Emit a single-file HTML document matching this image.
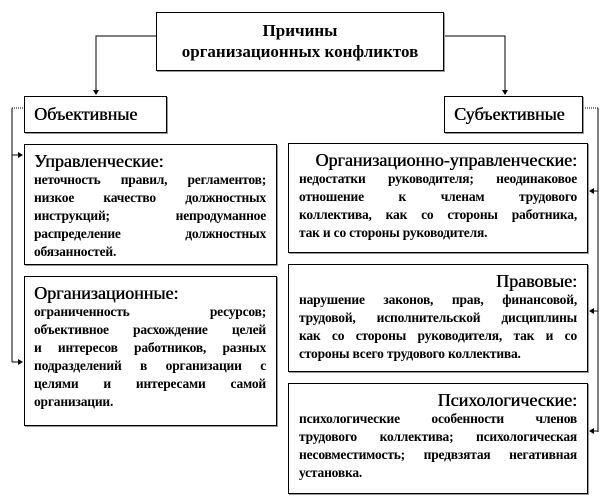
<!DOCTYPE html>
<html><head><meta charset="utf-8"><style>
body{margin:0;width:601px;height:504px;background:#fff;position:relative;overflow:hidden;font-family:"Liberation Serif","DejaVu Serif",serif;color:#000}
.b{position:absolute;border:1px solid #000;box-sizing:border-box;background:#fff;box-shadow:1px 1px 0 #999}
.h{font-size:18px;line-height:20px;text-shadow:0.5px 0 0 #000}
.t div{font-size:13.5px;font-weight:bold;line-height:18px;text-align:justify;text-align-last:justify;white-space:nowrap;letter-spacing:-0.2px}
.t div.l{text-align-last:left}
</style></head><body>
<svg width="601" height="504" style="position:absolute;left:0;top:0">
<g stroke="#000" stroke-width="1" fill="none">
<polyline points="156,36 96,36 96,92"/>
<polyline points="444,36 505,36 505,92"/>
<line x1="12" y1="108" x2="12" y2="362"/>
<line x1="12" y1="108" x2="24" y2="108" stroke-dasharray="1,1"/>
<line x1="12" y1="155" x2="20" y2="155"/>
<line x1="12" y1="362" x2="20" y2="362"/>
<line x1="598" y1="108" x2="598" y2="432"/>
<line x1="583" y1="108" x2="598" y2="108" stroke-dasharray="1,1"/>
<line x1="592" y1="191" x2="598" y2="191"/>
<line x1="592" y1="311" x2="598" y2="311"/>
<line x1="592" y1="431" x2="598" y2="431"/>
</g>
<g fill="#000">
<polygon points="93,90 99,90 96,95"/>
<polygon points="502,90 508,90 505,95"/>
<polygon points="18,152 18,158 23,155"/>
<polygon points="18,359 18,365 23,362"/>
<polygon points="594,188 594,194 589,191"/>
<polygon points="594,308 594,314 589,311"/>
<polygon points="594,428 594,434 589,431"/>
</g>
</svg>
<div class="b" style="left:156px;top:12px;width:288px;height:59px;text-align:center;padding-top:7px;font-size:17px;font-weight:bold;line-height:21px">Причины<br>организационных конфликтов</div>
<div class="b h" style="left:24px;top:96px;width:143px;height:37px;padding:7px 0 0 9px">Объективные</div>
<div class="b h" style="left:444px;top:96px;width:139px;height:37px;padding:7px 0 0 9px">Субъективные</div>
<div class="b" style="left:24px;top:144px;width:253px;height:121px;padding:6px 10px 0 9px">
<div class="h">Управленческие:</div>
<div class="t"><div>неточность правил, регламентов;</div><div>низкое качество должностных</div><div>инструкций; непродуманное</div><div>распределение должностных</div><div class="l">обязанностей.</div></div></div>
<div class="b" style="left:24px;top:276px;width:253px;height:150px;padding:6px 10px 0 9px">
<div class="h">Организационные:</div>
<div class="t"><div>ограниченность ресурсов;</div><div>объективное расхождение целей</div><div>и интересов работников, разных</div><div>подразделений в организации с</div><div>целями и интересами самой</div><div class="l">организации.</div></div></div>
<div class="b" style="left:288px;top:143px;width:300px;height:110px;padding:6px 10px 0 10px">
<div class="h" style="text-align:right">Организационно-управленческие:</div>
<div class="t"><div>недостатки руководителя; неодинаковое</div><div>отношение к членам трудового</div><div>коллектива, как со стороны работника,</div><div class="l">так и со стороны руководителя.</div></div></div>
<div class="b" style="left:288px;top:264px;width:300px;height:108px;padding:6px 10px 0 10px">
<div class="h" style="text-align:right">Правовые:</div>
<div class="t"><div>нарушение законов, прав, финансовой,</div><div>трудовой, исполнительской дисциплины</div><div>как со стороны руководителя, так и со</div><div class="l">стороны всего трудового коллектива.</div></div></div>
<div class="b" style="left:288px;top:383px;width:300px;height:111px;padding:6px 10px 0 10px">
<div class="h" style="text-align:right">Психологические:</div>
<div class="t"><div>психологические особенности членов</div><div>трудового коллектива; психологическая</div><div>несовместимость; предвзятая негативная</div><div class="l">установка.</div></div></div>
</body></html>
